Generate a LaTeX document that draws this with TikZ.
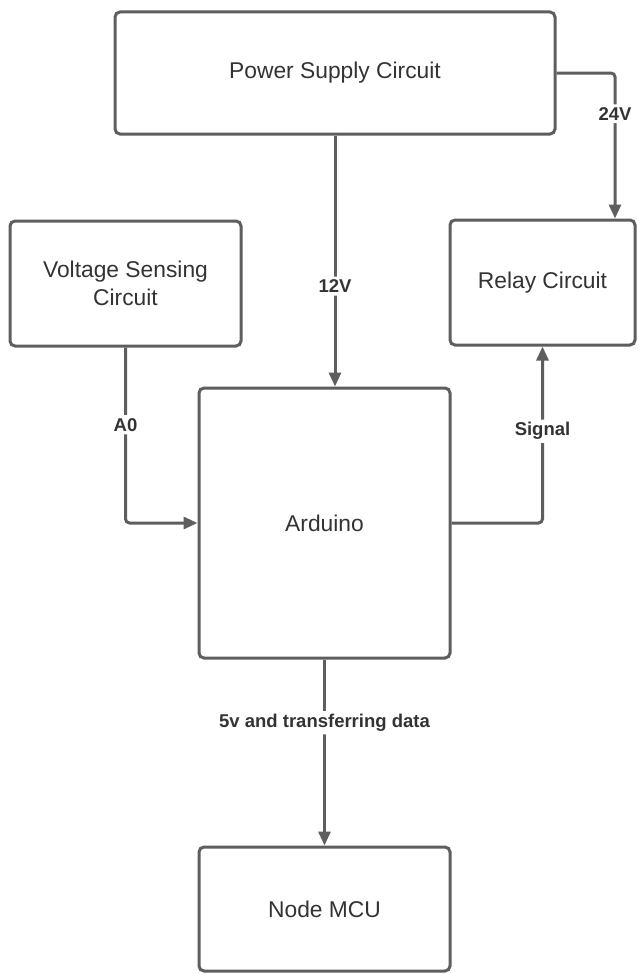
\documentclass[tikz,border=0pt]{standalone}
\usepackage{fontspec}
\setmainfont{Liberation Sans}
\usetikzlibrary{arrows.meta}
\definecolor{linegray}{HTML}{5E5E5E}
\definecolor{textgray}{HTML}{333333}
\tikzset{
  blockbox/.style={draw=linegray, line width=3pt, rounded corners=5pt, fill=white,
    text=textgray, font=\fontsize{22.8}{28}\selectfont, align=center, inner sep=0pt},
  conn/.style={draw=linegray, line width=3pt, rounded corners=4pt,
    -{Triangle[length=14pt,width=12pt]}},
  lbl/.style={fill=white, text=textgray, font=\bfseries\fontsize{18.5}{20}\selectfont,
    inner sep=3pt}
}
\begin{document}
\begin{tikzpicture}[x=1pt,y=-1pt]
\useasboundingbox (0,0) rectangle (637,974);
\fill[white] (0,0) rectangle (637,974);
\node[blockbox, minimum width=440pt, minimum height=122pt] (power) at (335,73) {Power Supply Circuit};
\node[blockbox, minimum width=231pt, minimum height=125pt] (volt) at (125.5,283.5) {Voltage Sensing\\Circuit};
\node[blockbox, minimum width=185pt, minimum height=125pt] (relay) at (542.5,282.5) {Relay Circuit};
\node[blockbox, minimum width=251pt, minimum height=270pt] (ard) at (324.5,523) {Arduino};
\node[blockbox, minimum width=251pt, minimum height=124pt] (mcu) at (324.5,909) {Node MCU};

\draw[conn] (power.south) -- node[lbl, pos=0.6] {12V} (power.south |- ard.north);
\draw[conn] (power.east) -| node[lbl, pos=0.64] {24V} ([xshift=72.5pt]relay.north);
\draw[conn] (volt.south) |- node[lbl, pos=0.22] {A0} (ard.west);
\draw[conn] (ard.east) -| node[lbl, pos=0.76] {Signal} (relay.south);
\draw[conn] (ard.south) -- node[lbl, pos=0.34] {5v and transferring data} (mcu.north);
\end{tikzpicture}
\end{document}
